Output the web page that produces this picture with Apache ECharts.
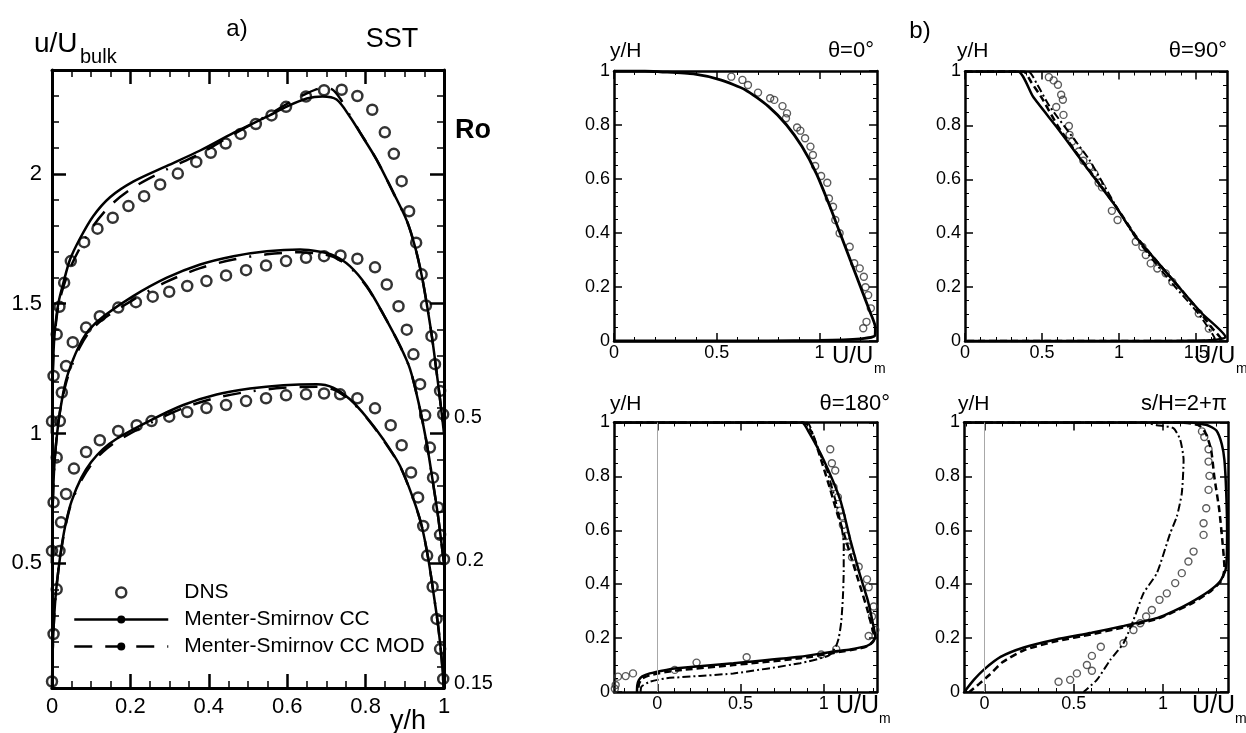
<!DOCTYPE html>
<html><head><meta charset="utf-8">
<script src="https://cdn.jsdelivr.net/npm/echarts@6/dist/echarts.min.js"></script>
<style>html,body{margin:0;padding:0;background:#fff}#c{width:1246px;height:733px}</style>
</head><body><div id="c"></div>
<script>
// ---------------- DATA ----------------
const aDnsRo015 = [[0,0.045],[0.004,0.228],[0.012,0.40],[0.019,0.548],[0.023,0.658],[0.036,0.767],[0.056,0.865],[0.087,0.929],[0.122,0.974],[0.169,1.01],[0.216,1.032],[0.254,1.048],[0.299,1.065],[0.345,1.083],[0.394,1.098],[0.444,1.11],[0.495,1.125],[0.546,1.136],[0.597,1.147],[0.648,1.151],[0.694,1.154],[0.735,1.151],[0.779,1.136],[0.824,1.097],[0.864,1.032],[0.892,0.955],[0.916,0.85],[0.934,0.754],[0.947,0.644],[0.957,0.53],[0.971,0.41],[0.981,0.286],[0.99,0.17],[0.998,0.055]];
const aDnsRo02 = [[0,0.548],[0.004,0.735],[0.012,0.908],[0.02,1.048],[0.025,1.158],[0.036,1.26],[0.053,1.352],[0.087,1.408],[0.122,1.452],[0.169,1.485],[0.214,1.506],[0.257,1.527],[0.299,1.546],[0.345,1.568],[0.394,1.587],[0.444,1.609],[0.495,1.629],[0.546,1.647],[0.597,1.664],[0.648,1.677],[0.694,1.683],[0.736,1.686],[0.779,1.673],[0.824,1.64],[0.854,1.574],[0.884,1.49],[0.905,1.40],[0.922,1.305],[0.939,1.19],[0.952,1.07],[0.964,0.946],[0.972,0.83],[0.985,0.715],[0.99,0.61],[1.0,0.516]];
const aDnsRo05 = [[0,1.047],[0.004,1.222],[0.012,1.382],[0.019,1.488],[0.031,1.581],[0.048,1.664],[0.082,1.737],[0.116,1.789],[0.155,1.831],[0.195,1.876],[0.235,1.914],[0.276,1.959],[0.321,2.001],[0.368,2.046],[0.405,2.081],[0.443,2.117],[0.481,2.154],[0.52,2.192],[0.56,2.225],[0.597,2.258],[0.648,2.298],[0.694,2.322],[0.739,2.324],[0.779,2.30],[0.817,2.247],[0.849,2.16],[0.872,2.077],[0.892,1.972],[0.911,1.856],[0.929,1.735],[0.943,1.613],[0.954,1.493],[0.968,1.375],[0.977,1.267],[0.99,1.164],[0.998,1.074]];

const aCCRo015 = [[0,0],[0.001,0.12],[0.004,0.25],[0.009,0.37],[0.016,0.47],[0.025,0.57],[0.036,0.66],[0.05,0.74],[0.075,0.83],[0.1,0.89],[0.13,0.94],[0.165,0.98],[0.25,1.05],[0.335,1.11],[0.42,1.15],[0.505,1.173],[0.59,1.186],[0.675,1.19],[0.717,1.177],[0.76,1.132],[0.803,1.062],[0.845,0.978],[0.888,0.875],[0.922,0.747],[0.943,0.645],[0.96,0.517],[0.973,0.388],[0.985,0.26],[0.994,0.132],[1,0]];
const aMODRo015 = [[0,0],[0.001,0.12],[0.004,0.25],[0.009,0.37],[0.016,0.47],[0.025,0.565],[0.036,0.655],[0.05,0.735],[0.075,0.82],[0.1,0.88],[0.13,0.93],[0.165,0.97],[0.25,1.04],[0.335,1.098],[0.42,1.138],[0.505,1.162],[0.59,1.176],[0.675,1.18],[0.717,1.17],[0.76,1.128],[0.803,1.06],[0.845,0.975],[0.888,0.873],[0.922,0.745],[0.943,0.645],[0.96,0.517],[0.973,0.388],[0.985,0.26],[0.994,0.132],[1,0]];
const aCCRo02 = [[0,0.5],[0.001,0.65],[0.003,0.78],[0.007,0.9],[0.013,1.0],[0.022,1.1],[0.035,1.2],[0.05,1.27],[0.07,1.34],[0.095,1.4],[0.13,1.45],[0.207,1.529],[0.293,1.6],[0.378,1.651],[0.463,1.683],[0.548,1.702],[0.633,1.709],[0.684,1.70],[0.718,1.686],[0.76,1.645],[0.803,1.568],[0.845,1.46],[0.888,1.337],[0.913,1.25],[0.935,1.12],[0.955,0.97],[0.972,0.81],[0.985,0.68],[0.995,0.56],[1,0.5]];
const aMODRo02 = [[0,0.5],[0.001,0.65],[0.003,0.78],[0.007,0.9],[0.013,1.0],[0.022,1.1],[0.035,1.19],[0.05,1.26],[0.07,1.33],[0.095,1.39],[0.13,1.44],[0.207,1.515],[0.293,1.585],[0.378,1.637],[0.463,1.67],[0.548,1.69],[0.633,1.698],[0.684,1.692],[0.718,1.68],[0.76,1.64],[0.803,1.565],[0.845,1.46],[0.888,1.337],[0.913,1.25],[0.935,1.12],[0.955,0.97],[0.972,0.81],[0.985,0.68],[0.995,0.56],[1,0.5]];
const aCCRo05 = [[0,1.0],[0.001,1.15],[0.003,1.28],[0.007,1.39],[0.016,1.5],[0.029,1.58],[0.046,1.67],[0.071,1.75],[0.105,1.837],[0.148,1.91],[0.207,1.97],[0.292,2.03],[0.378,2.09],[0.463,2.158],[0.548,2.22],[0.6,2.26],[0.65,2.29],[0.69,2.298],[0.726,2.286],[0.76,2.22],[0.786,2.158],[0.828,2.055],[0.871,1.927],[0.905,1.82],[0.926,1.72],[0.943,1.61],[0.956,1.5],[0.969,1.375],[0.98,1.25],[0.99,1.13],[0.997,1.04],[1,1.0]];
const aMODRo05 = [[0,1.0],[0.001,1.15],[0.003,1.28],[0.007,1.38],[0.016,1.49],[0.03,1.57],[0.05,1.65],[0.075,1.725],[0.105,1.8],[0.15,1.88],[0.21,1.95],[0.29,2.015],[0.38,2.08],[0.46,2.15],[0.55,2.225],[0.6,2.27],[0.65,2.31],[0.69,2.33],[0.715,2.325],[0.735,2.29],[0.76,2.225],[0.786,2.16],[0.828,2.055],[0.871,1.927],[0.905,1.82],[0.926,1.72],[0.943,1.61],[0.956,1.5],[0.969,1.375],[0.98,1.25],[0.99,1.13],[0.997,1.04],[1,1.0]];

const b0Dns = [[0.571,0.979],[0.625,0.967],[0.652,0.948],[0.701,0.92],[0.76,0.899],[0.78,0.893],[0.82,0.87],[0.842,0.843],[0.837,0.825],[0.891,0.791],[0.907,0.779],[0.93,0.751],[0.956,0.72],[0.968,0.689],[0.979,0.648],[1.008,0.611],[1.038,0.586],[1.046,0.528],[1.066,0.497],[1.077,0.448],[1.098,0.399],[1.147,0.349],[1.169,0.288],[1.196,0.269],[1.216,0.238],[1.224,0.199],[1.237,0.17],[1.25,0.121],[1.229,0.071],[1.213,0.047]];
const b0CC = [[0,1],[0.15,1.0],[0.224,0.997],[0.387,0.989],[0.518,0.967],[0.64,0.93],[0.75,0.87],[0.84,0.8],[0.915,0.72],[0.985,0.62],[1.05,0.5],[1.1,0.4],[1.15,0.3],[1.2,0.2],[1.245,0.11],[1.272,0.05],[1.27,0.02],[1.2,0.008],[1.0,0.002],[0.5,0],[0,0]];

const b90Dns = [[0.544,0.979],[0.575,0.967],[0.603,0.951],[0.624,0.914],[0.635,0.895],[0.592,0.868],[0.639,0.839],[0.674,0.798],[0.678,0.765],[0.695,0.74],[0.738,0.703],[0.768,0.669],[0.807,0.647],[0.839,0.622],[0.867,0.587],[0.889,0.57],[0.953,0.483],[0.99,0.449],[1.108,0.368],[1.151,0.349],[1.173,0.319],[1.205,0.288],[1.248,0.269],[1.302,0.251],[1.345,0.219],[1.517,0.102],[1.582,0.046]];
const b90CC = [[0,1],[0.344,1.0],[0.441,0.907],[0.592,0.796],[0.721,0.697],[0.85,0.597],[0.979,0.498],[1.108,0.387],[1.238,0.30],[1.388,0.20],[1.538,0.102],[1.69,0.015],[1.6,0.003],[1.0,0],[0,0]];
const b90MOD = [[0,1],[0.38,1.0],[0.43,0.96],[0.5,0.9],[0.6,0.8],[0.721,0.7],[0.85,0.6],[0.979,0.5],[1.108,0.39],[1.238,0.3],[1.388,0.2],[1.52,0.11],[1.6,0.05],[1.66,0.01],[1.5,0],[0,0]];
const b90Third = [[0,1],[0.41,1.0],[0.47,0.95],[0.55,0.87],[0.72,0.74],[0.807,0.672],[0.9,0.58],[0.99,0.49],[1.1,0.39],[1.22,0.3],[1.35,0.21],[1.45,0.145],[1.517,0.1],[1.582,0.046],[1.62,0.01],[1.55,0],[0,0]];

const b180Dns = [[1.039,0.901],[1.049,0.849],[1.069,0.822],[1.059,0.76],[1.085,0.723],[1.099,0.673],[1.109,0.651],[1.115,0.62],[1.135,0.579],[1.143,0.54],[1.17,0.5],[1.21,0.465],[1.26,0.418],[1.27,0.389],[1.3,0.317],[1.29,0.28],[1.31,0.23],[1.27,0.208],[1.075,0.159],[0.985,0.139],[0.537,0.129],[0.236,0.109],[0.105,0.082],[-0.146,0.069],[-0.19,0.059],[-0.236,0.057],[-0.25,0.026],[-0.255,0.012]];
const b180CC = [[-0.26,1],[0.869,1.0],[0.908,0.967],[0.999,0.862],[1.099,0.713],[1.16,0.564],[1.215,0.44],[1.26,0.35],[1.28,0.3],[1.3,0.24],[1.31,0.205],[1.295,0.185],[1.26,0.171],[1.16,0.158],[1.059,0.15],[0.858,0.131],[0.457,0.107],[0.116,0.088],[0.055,0.082],[-0.045,0.069],[-0.09,0.058],[-0.11,0.045],[-0.12,0.025],[-0.122,0]];
const b180MOD = [[-0.26,1],[0.88,1.0],[0.93,0.96],[0.99,0.85],[1.04,0.75],[1.08,0.665],[1.12,0.59],[1.17,0.49],[1.22,0.39],[1.26,0.31],[1.29,0.24],[1.305,0.2],[1.28,0.178],[1.24,0.165],[1.06,0.145],[0.86,0.125],[0.457,0.1],[0.116,0.08],[0.05,0.074],[-0.045,0.062],[-0.09,0.05],[-0.11,0.03],[-0.115,0]];
const b180Third = [[-0.26,1],[0.9,1.0],[0.929,0.967],[0.98,0.88],[1.019,0.824],[1.08,0.688],[1.11,0.6],[1.12,0.55],[1.12,0.45],[1.115,0.35],[1.105,0.26],[1.09,0.2],[1.07,0.165],[1.03,0.135],[0.858,0.107],[0.457,0.069],[0.055,0.051],[-0.045,0.038],[-0.095,0.02],[-0.1,0]];

const bSHDns = [[1.219,0.967],[1.232,0.946],[1.256,0.901],[1.256,0.855],[1.261,0.802],[1.256,0.75],[1.243,0.682],[1.228,0.626],[1.228,0.583],[1.172,0.521],[1.143,0.484],[1.106,0.441],[1.069,0.404],[1.022,0.366],[0.981,0.342],[0.938,0.304],[0.906,0.28],[0.873,0.255],[0.835,0.23],[0.779,0.181],[0.652,0.168],[0.602,0.134],[0.574,0.1],[0.602,0.079],[0.518,0.069],[0.48,0.045],[0.415,0.038]];
const bSHCC = [[-0.115,1],[1.15,1.0],[1.25,0.99],[1.3,0.97],[1.33,0.92],[1.345,0.86],[1.355,0.74],[1.36,0.6],[1.358,0.5],[1.35,0.45],[1.32,0.41],[1.26,0.375],[1.15,0.33],[1.06,0.3],[0.97,0.275],[0.78,0.245],[0.6,0.22],[0.4,0.195],[0.22,0.165],[0.09,0.13],[0,0.085],[-0.06,0.045],[-0.108,0.005]];
const bSHMOD = [[-0.115,1],[1.1,1.0],[1.2,0.99],[1.24,0.96],[1.27,0.9],[1.288,0.8],[1.316,0.676],[1.335,0.55],[1.345,0.46],[1.33,0.415],[1.27,0.375],[1.16,0.328],[1.06,0.297],[0.97,0.272],[0.78,0.24],[0.6,0.214],[0.4,0.188],[0.22,0.155],[0.1,0.11],[0.03,0.065],[-0.03,0.03],[-0.085,0]];
const bSHThird = [[-0.115,1],[0.9,1.0],[0.966,0.99],[1.059,0.979],[1.097,0.936],[1.116,0.861],[1.106,0.738],[1.078,0.651],[1.041,0.589],[0.966,0.441],[0.891,0.366],[0.835,0.267],[0.779,0.181],[0.705,0.119],[0.63,0.045],[0.555,0]];

// Tick labels
const aXTicks = [0,0.2,0.4,0.6,0.8,1];
const aYTicks = [0.5,1,1.5,2];
const bYTicks = [0,0.2,0.4,0.6,0.8,1];
const b0XTicks = [0,0.5,1];
const b90XTicks = [0,0.5,1,1.5];
const b180XTicks = [0,0.5,1];
const bSHXTicks = [0,0.5,1];
const roLabels = ['0.5','0.2','0.15'];
const legendNames = ['DNS','Menter-Smirnov CC','Menter-Smirnov CC MOD'];

// ---------------- BUILD ----------------
const FONT = "'Liberation Sans', Arial, Helvetica, sans-serif";
const errors = [];
function step(name, fn) { try { fn(); } catch (e) { errors.push(name + ': ' + (e && e.message)); } }
const fmt = v => String(Math.round(v * 100) / 100);
function tickVals(min, max, s, exclude) {
  const out = [];
  const k0 = Math.ceil(min / s - 1e-9), k1 = Math.floor(max / s + 1e-9);
  for (let k = k0; k <= k1; k++) {
    const v = Math.round(k * s * 10000) / 10000;
    if (exclude && (v <= min + 1e-9 || v >= max - 1e-9 || exclude.some(m => Math.abs(m - v) < 1e-6))) continue;
    out.push(v);
  }
  return out;
}

const grids = [], xAxes = [], yAxes = [], dummies = [], customTicks = [];
function addPanel(rect, xc, yc, st) {
  const gMain = grids.length; grids.push(Object.assign({}, rect));
  const gMinor = grids.length; grids.push(Object.assign({}, rect));
  const xMaj = tickVals(xc.min, xc.max, xc.majorStep), xMin = tickVals(xc.min, xc.max, xc.minorStep, xMaj);
  const yMaj = tickVals(yc.min, yc.max, yc.majorStep), yMin = tickVals(yc.min, yc.max, yc.minorStep, yMaj);
  const mk = (gi, c, pos, showLine, vals, len, w, labels) => ({
    type: 'value', gridIndex: gi, position: pos, min: c.min, max: c.max,
    splitLine: { show: false },
    axisLine: { show: showLine, onZero: false, lineStyle: { color: '#000', width: st.lw } },
    axisTick: { show: true, inside: true, length: len, customValues: vals.slice(), lineStyle: { color: '#000', width: w } },
    axisLabel: labels ? { show: true, customValues: labels.slice(), formatter: fmt, color: '#000', fontSize: st.fs, fontFamily: FONT,
      margin: (pos === 'bottom') ? st.mx : st.my } : { show: false }
  });
  const ix = xAxes.length, iy = yAxes.length;
  xAxes.push(mk(gMain, xc, 'bottom', true, xMaj, st.L, st.tw, xc.labels));
  xAxes.push(mk(gMain, xc, 'top', true, xMaj, st.L, st.tw, null));
  xAxes.push(mk(gMinor, xc, 'bottom', false, xMin, st.L / 2, st.tw2, null));
  xAxes.push(mk(gMinor, xc, 'top', false, xMin, st.L / 2, st.tw2, null));
  yAxes.push(mk(gMain, yc, 'left', true, yMaj, st.L, st.tw, yc.labels));
  yAxes.push(mk(gMain, yc, 'right', true, yMaj, st.L, st.tw, null));
  yAxes.push(mk(gMinor, yc, 'left', false, yMin, st.L / 2, st.tw2, null));
  yAxes.push(mk(gMinor, yc, 'right', false, yMin, st.L / 2, st.tw2, null));
  for (let k = 1; k < 4; k++) {
    dummies.push({ type: 'line', name: '_ax' + ix + '_' + k, xAxisIndex: ix + k, yAxisIndex: iy + k,
      data: [[xc.min, yc.min]], symbol: 'none', showSymbol: false, silent: true, lineStyle: { opacity: 0 } });
  }
  // fallback tick marks (only used if the axis ticks do not render)
  const items = [];
  xMaj.forEach(v => { items.push([v, yc.min, 0, st.L, st.tw]); items.push([v, yc.min, 1, st.L, st.tw]); });
  xMin.forEach(v => { items.push([v, yc.min, 0, st.L / 2, st.tw2]); items.push([v, yc.min, 1, st.L / 2, st.tw2]); });
  yMaj.forEach(v => { items.push([xc.min, v, 2, st.L, st.tw]); items.push([xc.min, v, 3, st.L, st.tw]); });
  yMin.forEach(v => { items.push([xc.min, v, 2, st.L / 2, st.tw2]); items.push([xc.min, v, 3, st.L / 2, st.tw2]); });
  customTicks.push({
    type: 'custom', name: '_ticks' + gMain, coordinateSystem: 'cartesian2d', xAxisIndex: ix, yAxisIndex: iy,
    data: items, silent: true, clip: false, z: 5,
    renderItem: function (params, api) {
      const side = api.value(2), len = api.value(3), w = api.value(4);
      let pt, dx = 0, dy = 0;
      if (side === 0) { pt = api.coord([api.value(0), yc.min]); dy = -len; }
      else if (side === 1) { pt = api.coord([api.value(0), yc.max]); dy = len; }
      else if (side === 2) { pt = api.coord([xc.min, api.value(1)]); dx = len; }
      else { pt = api.coord([xc.max, api.value(1)]); dx = -len; }
      return { type: 'line', shape: { x1: pt[0], y1: pt[1], x2: pt[0] + dx, y2: pt[1] + dy }, style: { stroke: '#000', lineWidth: w } };
    }
  });
  return { x: ix, y: iy };
}

const stA = { lw: 3, tw: 2.5, tw2: 1.5, L: 14, fs: 22, mx: 8, my: 10 };
const stB = { lw: 2.5, tw: 1.5, tw2: 1, L: 8, fs: 18, mx: 3, my: 4 };
const yB = () => ({ min: 0, max: 1, majorStep: 0.2, minorStep: 0.05, labels: bYTicks });

const pA = addPanel({ left: 52, top: 70, width: 392, height: 618 },
  { min: 0, max: 1, majorStep: 0.2, minorStep: 0.05, labels: aXTicks },
  { min: 0.02, max: 2.4, majorStep: 0.5, minorStep: 0.1, labels: aYTicks }, stA);
const p0 = addPanel({ left: 614, top: 71, width: 263, height: 270 },
  { min: 0, max: 1.28, majorStep: 0.5, minorStep: 0.1, labels: b0XTicks }, yB(), stB);
const p90 = addPanel({ left: 965, top: 71.5, width: 262, height: 269.5 },
  { min: 0, max: 1.7, majorStep: 0.5, minorStep: 0.1, labels: b90XTicks }, yB(), stB);
const p180 = addPanel({ left: 614, top: 422.5, width: 263, height: 269.5 },
  { min: -0.26, max: 1.32, majorStep: 0.5, minorStep: 0.1, labels: b180XTicks }, yB(), stB);
const pSH = addPanel({ left: 964, top: 422.5, width: 264, height: 269.5 },
  { min: -0.115, max: 1.365, majorStep: 0.5, minorStep: 0.1, labels: bSHXTicks }, yB(), stB);

const DASH_A = [18, 13, 18, 13, 18, 13, 2, 13];
const DASH_B = [7, 4];
const DASHDOT_B = [8, 3, 2, 3];
function lineS(name, p, data, w, type, smooth, extra) {
  return Object.assign({ type: 'line', name, xAxisIndex: p.x, yAxisIndex: p.y, data, showSymbol: false, symbol: 'none',
    smooth: smooth, silent: true, z: 3, lineStyle: { color: '#000', width: w, type: type }, itemStyle: { color: '#000' } }, extra || {});
}
function dnsS(name, p, data, size, bw, col) {
  return { type: 'scatter', name, xAxisIndex: p.x, yAxisIndex: p.y, data, symbol: 'circle', symbolSize: size, silent: true, z: 2,
    itemStyle: { color: 'rgba(255,255,255,0)', borderColor: col, borderWidth: bw } };
}
const zeroLine = () => ({ markLine: { silent: true, symbol: ['none', 'none'], label: { show: false },
  lineStyle: { color: '#a8a8a8', width: 1, type: 'solid' }, data: [{ xAxis: 0 }] } });

const series = [
  dnsS(legendNames[0], pA, aDnsRo015, 10, 2.5, '#000'),
  dnsS(legendNames[0], pA, aDnsRo02, 10, 2.5, '#000'),
  dnsS(legendNames[0], pA, aDnsRo05, 10, 2.5, '#000'),
  lineS(legendNames[1], pA, aCCRo015, 2.5, 'solid', 0.3),
  lineS(legendNames[1], pA, aCCRo02, 2.5, 'solid', 0.3),
  lineS(legendNames[1], pA, aCCRo05, 2.5, 'solid', 0.3),
  lineS(legendNames[2], pA, aMODRo015, 2.5, DASH_A, 0.3),
  lineS(legendNames[2], pA, aMODRo02, 2.5, DASH_A, 0.3),
  lineS(legendNames[2], pA, aMODRo05, 2.5, DASH_A, 0.3),
  dnsS('b0 DNS', p0, b0Dns, 7, 1.4, '#333'),
  lineS('b0 CC', p0, b0CC, 2.8, 'solid', 0.2),
  dnsS('b90 DNS', p90, b90Dns, 7, 1.4, '#333'),
  lineS('b90 third', p90, b90Third, 2, DASHDOT_B, 0.2),
  lineS('b90 MOD', p90, b90MOD, 2.5, DASH_B, 0.2),
  lineS('b90 CC', p90, b90CC, 2.5, 'solid', 0.2),
  dnsS('b180 DNS', p180, b180Dns, 7, 1.4, '#333'),
  lineS('b180 third', p180, b180Third, 2, DASHDOT_B, 0.2, zeroLine()),
  lineS('b180 MOD', p180, b180MOD, 2.5, DASH_B, 0.2),
  lineS('b180 CC', p180, b180CC, 2.5, 'solid', 0.2),
  dnsS('bSH DNS', pSH, bSHDns, 7, 1.4, '#333'),
  lineS('bSH third', pSH, bSHThird, 2, DASHDOT_B, 0.2, zeroLine()),
  lineS('bSH MOD', pSH, bSHMOD, 2.5, DASH_B, 0.2),
  lineS('bSH CC', pSH, bSHCC, 2.5, 'solid', 0.2)
].concat(dummies);

function txt(text, x, y, size, align, bold) {
  return { type: 'text', x: x, y: y, silent: true, z: 10,
    style: { text: text, font: (bold ? 'bold ' : '') + size + 'px ' + FONT, fill: '#000', align: align || 'left', verticalAlign: 'middle' } };
}
const graphics = [
  txt('a)', 237, 29, 24, 'center'),
  txt('u/U', 34, 44, 28, 'left'),
  txt('bulk', 80, 57, 20, 'left'),
  txt('SST', 392, 40, 27, 'center'),
  txt('Ro', 473, 131, 27, 'center', true),
  txt(roLabels[0], 454, 417, 20, 'left'),
  txt(roLabels[1], 456, 560, 20, 'left'),
  txt(roLabels[2], 454, 683, 20, 'left'),
  txt('y/h', 408, 722, 27, 'center'),
  txt('b)', 920, 31, 24, 'center'),
  txt('y/H', 610, 51, 21, 'left'),
  txt('θ=0°', 874, 51, 22, 'right'),
  txt('y/H', 957, 51, 21, 'left'),
  txt('θ=90°', 1227, 51, 22, 'right'),
  txt('y/H', 610, 404, 21, 'left'),
  txt('θ=180°', 890, 404, 22, 'right'),
  txt('y/H', 958, 404, 21, 'left'),
  txt('s/H=2+π', 1227, 404, 22, 'right'),
  txt('U/U', 832, 356, 24, 'left'),
  txt('m', 874, 369, 14, 'left'),
  txt('U/U', 1194, 356, 24, 'left'),
  txt('m', 1236, 369, 14, 'left'),
  txt('U/U', 836, 706, 25, 'left'),
  txt('m', 879, 719, 14, 'left'),
  txt('U/U', 1192, 706, 25, 'left'),
  txt('m', 1235, 719, 14, 'left')
];

let chart;
step('init', () => { chart = echarts.init(document.getElementById('c'), null, { width: 1246, height: 733 }); });
step('core', () => {
  chart.setOption({ animation: false, backgroundColor: '#fff', grid: grids, xAxis: xAxes, yAxis: yAxes, series: series });
});
step('legend', () => {
  chart.setOption({ legend: {
    data: [legendNames[0], legendNames[1], legendNames[2]],
    orient: 'vertical', left: 68, top: 577, itemWidth: 94, itemHeight: 10, itemGap: 6,
    selectedMode: false, padding: 5,
    textStyle: { fontSize: 21, fontFamily: FONT, color: '#000', lineHeight: 21, padding: [0, 0, 0, 11] },
    lineStyle: { width: 2.5 }, itemStyle: { borderWidth: 2.5 }
  } });
});
step('graphic', () => { chart.setOption({ graphic: graphics }); });

// If the axis tick marks did not render, draw them through a custom series on the same scales
let nLine = -1;
step('check', () => {
  const list = chart.getZr().storage.getDisplayList(true);
  nLine = list.filter(e => e.type === 'line').length;
});
if (nLine >= 0 && nLine < 200) {
  step('customTicks', () => { chart.setOption({ series: series.concat(customTicks) }); });
}
if (errors.length) {
  step('diag', () => {
    chart.setOption({ graphic: graphics.concat([{ type: 'text', x: 480, y: 4, silent: true,
      style: { text: errors.join(' | ').slice(0, 200), font: '9px monospace', fill: '#bbb' } }]) });
  });
}
</script></body></html>
